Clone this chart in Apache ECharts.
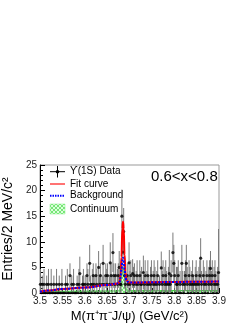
<!DOCTYPE html>
<html><head><meta charset="utf-8">
<script src="https://cdn.jsdelivr.net/npm/echarts@6/dist/echarts.min.js"></script>
<style>html,body{margin:0;padding:0;background:#fff}#c{width:249px;height:323px}</style>
</head><body><div id="c"></div>
<script>
// Histogram: 200 bins of 2 MeV from 3.50 to 3.90 GeV
const binStart = 3.5;
const binWidth = 0.002;
const binValues = [
  1.7,0,1.7,0,1.7,0,0,1.7,0,1.7,
  0,0,1.7,0,0,1.7,0,0,1.7,0,
  0,1.7,0,0,1.7,0,0,0,1.7,0,
  1.7,0,0,3.4,0,1.7,0,1.7,0,0,
  0,1.7,0,1.7,3.8,0,0,1.7,1.7,0,
  1.7,0,3.4,1.7,0,5.8,1.7,0,1.7,3.4,
  1.7,0,3.4,1.7,0,5,1.7,3.4,0,1.7,
  5.8,1.7,0,3.4,1.7,3.4,0,1.7,5.9,3.4,
  1.7,7.9,3.4,1.7,3.4,0,1.7,3.4,5,1.7,
  1.7,15,8,12,3.4,1.7,0,3.4,1.7,5.9,
  1.7,3.4,0,3.8,1.7,3.4,0,1.7,3.4,1.7,
  0,3.4,1.7,1.7,0,4,1.7,3.4,0,1.7,
  3.4,1.7,0,1.7,3.4,0,1.7,3.4,1.7,0,
  1.7,3.4,0,1.7,0,4.9,1.7,3.4,0,1.7,
  3.4,1.7,0,1.7,3.8,1.7,3.4,0,7.9,5.8,
  3.4,0,1.7,1.7,3.4,0,1.7,0,5.8,1.7,
  0,1.7,3.4,5.8,1.7,0,3.4,1.7,0,1.7,
  3.4,1.7,0,1.7,3.4,1.7,0,1.7,3.4,6.8,
  1.7,0,3.4,1.7,0,1.7,3.4,0,1.7,3.4,
  4.8,1.7,3.4,0,1.7,3.4,1.7,0,1.7,4
];
const binErrors = [
  3.0,0,1.7,0,3.0,0,0,1.7,0,3.0,
  0,0,3.0,0,0,1.7,0,0,3.0,0,
  0,1.7,0,0,3.0,0,0,0,1.7,0,
  3.0,0,0,2.4,0,1.7,0,3.0,0,0,
  0,1.7,0,3.0,3.3,0,0,1.7,3.0,0,
  1.7,0,2.4,3.0,0,3.6,1.7,0,3.0,2.4,
  1.7,0,2.4,3.0,0,3.2,1.7,2.4,0,1.7,
  3.6,1.7,0,2.4,3.0,2.4,0,1.7,4.0,2.4,
  1.7,3.8,2.4,1.7,2.4,0,3.0,2.4,3.2,1.7,
  1.7,5.2,4.2,4.6,2.4,1.7,0,2.4,1.7,4.0,
  2.6,3.0,0,2.8,3.4,2.4,0,2.6,3.0,1.7,
  0,3.0,2.6,3.4,0,3.3,1.7,3.0,0,2.6,
  3.0,1.7,0,3.4,3.0,0,2.6,3.0,3.4,0,
  2.6,3.0,0,1.7,0,3.2,2.6,3.0,0,3.4,
  3.0,2.6,0,3.4,4.6,1.7,3.0,0,3.9,3.6,
  3.0,0,3.4,3.4,3.0,0,2.6,0,3.6,2.6,
  0,2.6,3.0,3.6,3.4,0,3.0,3.4,0,2.6,
  3.0,1.7,0,3.4,3.0,2.6,0,3.4,3.0,3.9,
  2.6,0,3.0,3.4,0,2.6,3.0,0,3.4,3.0,
  3.4,2.6,3.0,0,3.4,3.0,2.6,0,3.4,8.5
];
// Fit curve (total), background and continuum: [mass, value]
const fitX = [3.50,3.52,3.55,3.60,3.65,3.67,3.675,3.678,3.680,3.682,3.684,3.6855,3.687,3.689,3.691,3.693,3.696,3.70,3.75,3.80,3.85,3.90];
const fitY = [0.25,0.5,0.8,1.05,1.55,1.8,1.9,2.3,3.4,7.0,12.5,13.9,12.5,7.5,4.0,2.7,2.2,2.05,2.1,2.15,2.2,2.25];
const bkgY = [0.25,0.5,0.8,1.05,1.55,1.8,1.9,2.2,3.0,4.6,6.3,6.9,6.3,4.6,3.2,2.5,2.2,2.05,2.1,2.15,2.2,2.25];
const contY = [0.3,0.32,0.34,0.37,0.4,0.41,0.42,0.5,1.2,2.8,4.5,5.1,4.5,2.8,1.4,0.8,0.5,0.45,0.46,0.47,0.48,0.5];
const xTicks = [3.5,3.55,3.6,3.65,3.7,3.75,3.8,3.85,3.9];
const legendLabels = ['\u03D2(1S) Data','Fit curve','Background','Continuum'];
const rangeLabel = '0.6<x<0.8';

const pts = [];
const zeroPts = [];
binValues.forEach((v,i)=>{
  const x = binStart + binWidth*(i+0.5);
  if (v>0) pts.push([x, v, binErrors[i]]); else zeroPts.push([x, 0]);
});
const fitData = fitX.map((x,i)=>[x,fitY[i]]);
const bkgData = fitX.map((x,i)=>[x,bkgY[i]]);
const contData = fitX.map((x,i)=>[x,contY[i]]);

// hatch pattern
const pc = document.createElement('canvas'); pc.width=4; pc.height=4;
const g = pc.getContext('2d');
g.fillStyle='rgba(190,250,190,0.5)'; g.fillRect(0,0,4,4);
g.strokeStyle='rgba(60,220,60,0.8)'; g.lineWidth=0.8;
g.beginPath(); g.moveTo(0,4); g.lineTo(4,0); g.stroke();
g.beginPath(); g.moveTo(0,0); g.lineTo(4,4); g.stroke();
const hatch = {image: pc, repeat: 'repeat'};

const chart = echarts.init(document.getElementById('c'));
const font = 'Liberation Sans, Arial, sans-serif';
chart.setOption({
  animation:false,
  grid:{left:40,right:30,top:165,bottom:30,show:true,borderColor:'#999',borderWidth:1,containLabel:false,outerBoundsMode:'none'},
  xAxis:{type:'value',min:3.5,max:3.9,interval:0.05,
    axisLine:{lineStyle:{color:'#000'}},
    axisTick:{inside:true,length:5,lineStyle:{color:'#000'}},
    minorTick:{show:true,splitNumber:5,length:3,lineStyle:{color:'#000'}},
    splitLine:{show:false},
    axisLabel:{fontSize:10,color:'#222',fontFamily:font,margin:3,
      formatter:v=>{const m=xTicks.find(t=>Math.abs(t-v)<1e-6);return m===undefined?'':String(m);}},
    name:'M(\u03C0\u207A\u03C0\u207BJ/\u03C8) (GeV/c\u00B2)',nameLocation:'middle',nameGap:17,
    nameTextStyle:{fontSize:13,color:'#000',fontFamily:font}},
  yAxis:{type:'value',min:0,max:25,interval:5,
    axisLine:{show:true,lineStyle:{color:'#000'}},
    axisTick:{show:true,inside:true,length:5,lineStyle:{color:'#000'}},
    minorTick:{show:true,splitNumber:5,length:3,lineStyle:{color:'#000'}},
    splitLine:{show:false},
    axisLabel:{fontSize:10,color:'#222',fontFamily:font,margin:3},
    name:'Entries/2 MeV/c\u00B2',nameLocation:'middle',nameGap:17,
    nameTextStyle:{fontSize:14,color:'#000',fontFamily:font}},
  series:[
    {type:'line',data:contData,smooth:true,smoothMonotone:'x',symbol:'none',
      lineStyle:{color:'#33dd33',width:1},areaStyle:{color:hatch,opacity:1},z:1},
    {type:'custom',data:pts,clip:true,z:2,
      renderItem:(params,api)=>{
        const x=api.value(0),y=api.value(1),e=api.value(2);
        const a=api.coord([x,y+e]),b=api.coord([x,Math.max(0,y-e)]);
        return {type:'line',shape:{x1:a[0],y1:a[1],x2:b[0],y2:b[1]},style:{stroke:'#7a7a7a',lineWidth:1}};
      }},
    {type:'scatter',data:zeroPts,symbol:'circle',symbolSize:2.5,
      itemStyle:{color:'#000'},z:3},
    {type:'scatter',data:pts.map(p=>[p[0],p[1]]),symbol:'circle',symbolSize:3.2,
      itemStyle:{color:'#000'},z:3},
    {type:'line',data:fitData,smooth:true,smoothMonotone:'x',symbol:'none',
      lineStyle:{color:'#ff0000',width:2},z:4},
    {type:'line',data:bkgData,smooth:true,smoothMonotone:'x',symbol:'none',
      lineStyle:{color:'#0000ff',width:2,type:[2,1.5]},z:5}
  ],
  graphic:[
    {type:'line',shape:{x1:50,y1:171.7,x2:65,y2:171.7},style:{stroke:'#000',lineWidth:1}},
    {type:'line',shape:{x1:57.5,y1:166,x2:57.5,y2:177.5},style:{stroke:'#000',lineWidth:1}},
    {type:'circle',shape:{cx:57.5,cy:171.7,r:1.8},style:{fill:'#000'}},
    {type:'line',shape:{x1:50,y1:184,x2:65,y2:184},style:{stroke:'#ff4444',lineWidth:1.5}},
    {type:'line',shape:{x1:50,y1:195.7,x2:65,y2:195.7},style:{stroke:'#0000ff',lineWidth:2,lineDash:[1.5,1]}},
    {type:'rect',shape:{x:50,y:204,width:15,height:10},style:{fill:hatch,stroke:'#88ee88',lineWidth:0.5}},
    {type:'text',x:70,y:171.7,style:{text:legendLabels[0],font:'10px '+font,fill:'#000',textVerticalAlign:'middle'}},
    {type:'text',x:70,y:184,style:{text:legendLabels[1],font:'10px '+font,fill:'#000',textVerticalAlign:'middle'}},
    {type:'text',x:70,y:195.7,style:{text:legendLabels[2],font:'10px '+font,fill:'#000',textVerticalAlign:'middle'}},
    {type:'text',x:70,y:209.3,style:{text:legendLabels[3],font:'10px '+font,fill:'#000',textVerticalAlign:'middle'}},
    {type:'text',x:151,y:177,style:{text:rangeLabel,font:'15px '+font,fill:'#000',textVerticalAlign:'middle'}}
  ]
});
</script></body></html>
